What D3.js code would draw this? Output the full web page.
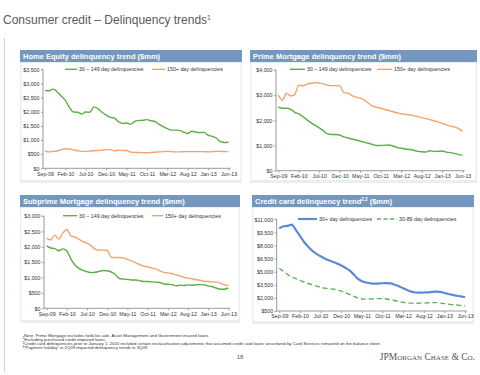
<!DOCTYPE html>
<html><head><meta charset="utf-8">
<script src="https://cdn.jsdelivr.net/npm/d3@7"></script>
<style>
html,body{margin:0;padding:0;background:#fff;}
svg{display:block;font-family:"Liberation Sans",Arial,sans-serif;}
</style></head>
<body>
<svg id="c" width="480" height="375"></svg>
<script>
const months = ["Sep-09","Oct-09","Nov-09","Dec-09","Jan-10","Feb-10","Mar-10","Apr-10","May-10","Jun-10","Jul-10","Aug-10","Sep-10","Oct-10","Nov-10","Dec-10","Jan-11","Feb-11","Mar-11","Apr-11","May-11","Jun-11","Jul-11","Aug-11","Sep-11","Oct-11","Nov-11","Dec-11","Jan-12","Feb-12","Mar-12","Apr-12","May-12","Jun-12","Jul-12","Aug-12","Sep-12","Oct-12","Nov-12","Dec-12","Jan-13","Feb-13","Mar-13","Apr-13","May-13","Jun-13"];
const xTickLabels = ["Sep-09","Feb-10","Jul-10","Dec-10","May-11","Oct-11","Mar-12","Aug-12","Jan-13","Jun-13"];

const homeEq30 = [2750,2740,2800,2700,2550,2400,2150,1990,1980,1920,1990,1980,2170,2100,1980,1880,1800,1780,1650,1590,1600,1560,1660,1690,1700,1720,1680,1650,1550,1470,1400,1350,1350,1340,1280,1230,1310,1280,1260,1270,1170,1130,1070,940,910,930];
const homeEq150 = [610,580,600,610,660,690,680,650,620,600,600,610,620,630,640,660,660,620,640,630,630,570,560,560,550,550,560,570,580,590,600,590,580,580,590,590,590,590,590,590,580,590,600,600,590,590];

const prime30 = [2530,2480,2480,2440,2320,2260,2150,2020,1900,1800,1700,1580,1460,1440,1440,1420,1340,1300,1260,1220,1170,1130,1090,1040,1000,1000,1010,1020,980,920,890,860,840,810,770,750,740,790,760,770,780,740,720,690,640,620];
const prime150 = [3000,2800,3080,2970,3020,3400,3370,3440,3470,3500,3480,3450,3400,3380,3380,3370,3100,3080,2980,2920,2880,2800,2680,2570,2520,2480,2430,2390,2340,2300,2260,2240,2210,2190,2150,2110,2070,2030,1980,1940,1880,1820,1770,1740,1670,1560];

const sub30 = [2030,1960,1940,1870,1930,1860,1600,1410,1300,1230,1190,1160,1170,1200,1230,1220,1180,1100,970,950,940,920,920,900,870,870,860,850,840,790,780,770,730,750,740,760,750,760,770,760,730,700,660,620,620,660];
const sub150 = [2270,2220,2380,2250,2450,2560,2350,2310,2240,2170,2120,2040,1920,1890,1890,1880,1660,1650,1650,1640,1590,1540,1480,1420,1370,1350,1310,1280,1220,1170,1150,1130,1090,1050,1000,980,960,930,910,880,870,860,850,820,770,740];

const card30plus = [9950,10200,10250,10400,9800,9100,8400,7870,7400,7050,6760,6520,6300,6120,5950,5720,5450,5150,4700,4200,3900,3760,3680,3630,3650,3680,3690,3670,3500,3330,3100,2900,2720,2620,2600,2620,2640,2680,2720,2700,2560,2450,2340,2250,2180,2070];
const card30_89 = [5400,5050,4700,4400,4200,4000,3820,3650,3500,3350,3220,3120,3050,3000,2930,2780,2600,2400,2200,2000,1880,1860,1880,1900,1920,1910,1880,1800,1700,1580,1500,1440,1400,1380,1400,1420,1440,1460,1460,1420,1340,1280,1220,1180,1130,1080];

const homeEqTicks = [0,500,1000,1500,2000,2500,3000,3500];
const primeTicks = [0,1000,2000,3000,4000];
const subTicks = [0,500,1000,1500,2000,2500,3000];
const cardTicks = [500,2000,3500,5000,6500,8000,9500,11000];

const legendHome = ["30 \u2013 149 day delinquencies","150+ day delinquencies"];
const legendCard = ["30+ day delinquencies","30-89 day delinquencies"];

const GREEN = "#5cae48", ORANGE = "#f2a46a", BLUE = "#5a8ad4", DGREEN = "#5ab35a";
const BAR = "#7397bf";

const svg = d3.select("#c");

// left vertical rule
svg.append("line").attr("x1",4.5).attr("x2",4.5).attr("y1",38).attr("y2",372).attr("stroke","#d0d0d0").attr("stroke-width",1);

// main title
const t = svg.append("text").attr("x",3).attr("y",24).attr("fill","#5a5a5a").attr("font-size",12);
t.append("tspan").text("Consumer credit \u2013 Delinquency trends");
t.append("tspan").attr("font-size",7).attr("dy",-4.5).text("1");

const fmt = v => "$" + d3.format(",")(v);

function panel(cfg){
  const g = svg.append("g");
  // body
  g.append("rect").attr("x",cfg.px).attr("y",cfg.by).attr("width",cfg.pw).attr("height",cfg.bh).attr("fill","#e9eef3");
  g.append("rect").attr("x",cfg.px+1.5).attr("y",cfg.by+1).attr("width",cfg.pw-3).attr("height",cfg.bh-4).attr("fill","#fff");
  // title bar
  g.append("rect").attr("x",cfg.px).attr("y",cfg.ty).attr("width",cfg.pw).attr("height",cfg.by-cfg.ty).attr("fill",BAR);
  const tt = g.append("text").attr("x",cfg.px+3).attr("y",cfg.ty+8.6).attr("fill","#fff").attr("font-size",7.5).attr("font-weight","bold");
  tt.append("tspan").text(cfg.title);
  if(cfg.sup){ tt.append("tspan").attr("font-size",4.5).attr("dy",-3).text(cfg.sup); tt.append("tspan").attr("dy",3).text(" ($mm)"); }

  const x = d3.scalePoint().domain(months).range([cfg.x0,cfg.x1]);
  const y = d3.scaleLinear().domain(cfg.yd).range([cfg.yb,cfg.yt]);

  // y axis
  const ya = d3.axisLeft(y).tickValues(cfg.ticks).tickFormat(fmt).tickSize(2).tickPadding(1.5);
  const yg = g.append("g").attr("transform",`translate(${cfg.ax},0)`).call(ya);
  yg.select(".domain").attr("stroke","#9a9a9a").attr("d",`M-2,${cfg.yt}H0V${cfg.yb}`);
  yg.selectAll(".tick line").attr("stroke","#9a9a9a");
  yg.selectAll("text").attr("font-size",5.3).attr("fill","#333").attr("font-family","Liberation Sans, Arial, sans-serif");

  // x axis
  const xa = d3.axisBottom(x).tickValues(xTickLabels).tickSize(2).tickPadding(1.5);
  const xg = g.append("g").attr("transform",`translate(0,${cfg.yb})`).call(xa);
  xg.select(".domain").attr("stroke","#9a9a9a").attr("d",`M${cfg.ax},0H${cfg.x1+2}`);
  xg.selectAll(".tick line").attr("stroke","#9a9a9a");
  xg.selectAll("text").attr("font-size",5.3).attr("fill","#333").attr("font-family","Liberation Sans, Arial, sans-serif");

  // lines
  cfg.series.forEach(s=>{
    const line = d3.line().x((d,i)=>x(months[i])).y(d=>y(d)).curve(d3.curveMonotoneX);
    g.append("path").datum(s.data).attr("d",line).attr("fill","none").attr("stroke",s.color)
      .attr("stroke-width",s.w).attr("stroke-dasharray",s.dash||null).attr("stroke-linejoin","round");
  });

  // legend
  cfg.series.forEach((s,i)=>{
    const L = cfg.legend[i];
    g.append("line").attr("x1",L.lx).attr("x2",L.lx+L.lw).attr("y1",cfg.ly).attr("y2",cfg.ly)
      .attr("stroke",s.color).attr("stroke-width",s.w).attr("stroke-dasharray",s.dash?"4,2.5":null);
    g.append("text").attr("x",L.lx+L.lw+2).attr("y",cfg.ly+1.9).attr("font-size",5.3).attr("fill","#333").text(s.name);
  });
}

panel({title:"Home Equity delinquency trend ($mm)", px:20, pw:222, ty:50, by:62, bh:121,
  x0:45, x1:228.5, yb:168.3, yt:69.3, yd:[0,3500], ax:43, ticks:homeEqTicks, ly:69.3,
  series:[{name:legendHome[0],data:homeEq30,color:GREEN,w:1.4},{name:legendHome[1],data:homeEq150,color:ORANGE,w:1.4}],
  legend:[{lx:65,lw:12},{lx:152,lw:13}]});

panel({title:"Prime Mortgage delinquency trend ($mm)", px:250, pw:227, ty:50, by:62, bh:121,
  x0:278.3, x1:462.7, yb:170.7, yt:70, yd:[0,4000], ax:276, ticks:primeTicks, ly:69.3,
  series:[{name:legendHome[0],data:prime30,color:GREEN,w:1.4},{name:legendHome[1],data:prime150,color:ORANGE,w:1.4}],
  legend:[{lx:290,lw:15},{lx:377,lw:15}]});

panel({title:"Subprime Mortgage delinquency trend ($mm)", px:20, pw:220, ty:195, by:207, bh:116,
  x0:46.7, x1:228.3, yb:308.3, yt:216, yd:[0,3000], ax:44, ticks:subTicks, ly:215.7,
  series:[{name:legendHome[0],data:sub30,color:GREEN,w:1.4},{name:legendHome[1],data:sub150,color:ORANGE,w:1.4}],
  legend:[{lx:63,lw:14},{lx:152,lw:11}]});

panel({title:"Credit card delinquency trend", sup:"2,3", px:252, pw:222, ty:195, by:207, bh:117,
  x0:279.3, x1:465, yb:311, yt:219.3, yd:[500,11000], ax:276.7, ticks:cardTicks, ly:219,
  series:[{name:legendCard[0],data:card30plus,color:BLUE,w:2.2},{name:legendCard[1],data:card30_89,color:DGREEN,w:1.4,dash:"5,3"}],
  legend:[{lx:298,lw:19},{lx:377,lw:20}]});

// footnotes
const notes = [
  ["","Note: Prime Mortgage excludes held-for-sale, Asset Management and Government insured loans"],
  ["1","Excluding purchased credit-impaired loans"],
  ["2","Credit card delinquencies prior to January 1, 2010 included certain reclassification adjustments that assumed credit card loans securitized by Card Services remained on the balance sheet"],
  ["3","\u201CPayment holiday\u201D in 2Q09 impacted delinquency trends in 3Q09"]
];
notes.forEach((n,i)=>{
  const tx = svg.append("text").attr("x",n[0]?22.5:24).attr("y",336.5+i*4.1).attr("font-size",4.3).attr("fill","#333");
  if(n[0]) tx.append("tspan").attr("font-size",3).attr("dy",-1.2).text(n[0]);
  tx.append("tspan").attr("dy",n[0]?1.2:0).text(n[1]);
});

svg.append("text").attr("x",240).attr("y",359).attr("text-anchor","middle").attr("font-size",6).attr("fill","#555").text("18");
svg.append("text").attr("x",475).attr("y",359.5).attr("text-anchor","end").attr("font-size",9.5)
  .attr("font-family","Liberation Serif, Times New Roman, serif").attr("fill","#555")
  .style("font-variant","small-caps").text("JPMorgan Chase & Co.");
</script>
</body></html>
